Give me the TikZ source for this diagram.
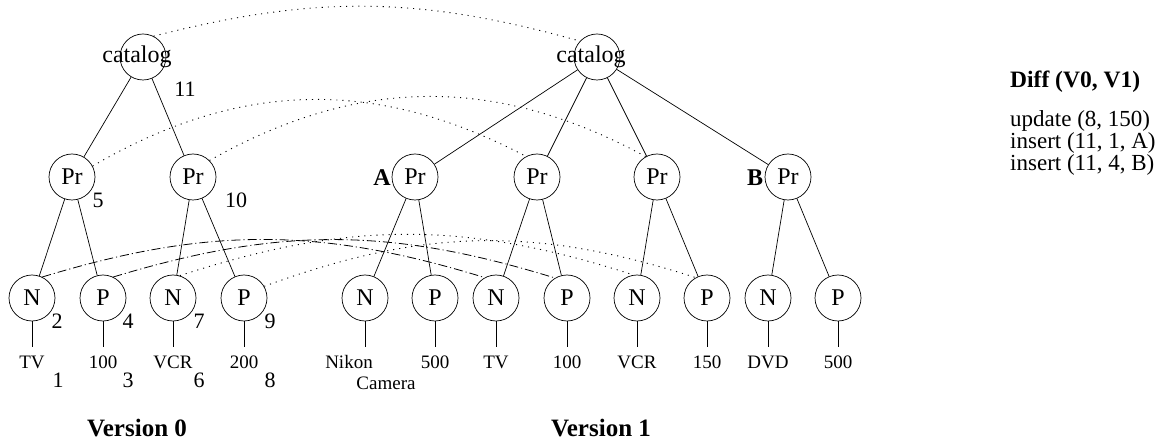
\documentclass[tikz,border=0pt]{standalone}
\usepackage{fontspec}
\setmainfont{Liberation Serif}
\begin{document}
\begin{tikzpicture}[x=1pt,y=-1pt,
  treenode/.style={draw, circle, minimum size=46pt, inner sep=0pt,
    line width=0.7pt, font=\fontsize{24}{28}\selectfont},
  edge/.style={line width=0.7pt},
  val/.style={anchor=north, inner xsep=1pt, inner ysep=0pt,
    text height=21pt, text depth=4pt, font=\fontsize{19}{22}\selectfont},
  num/.style={inner sep=0pt, font=\fontsize{22}{26}\selectfont},
  mark label/.style={inner sep=0pt, font=\bfseries\fontsize{24}{28}\selectfont},
  title/.style={inner sep=0pt, font=\bfseries\fontsize{25}{30}\selectfont},
  difftext/.style={anchor=base west, inner sep=0pt, font=\fontsize{23}{26}\selectfont},
  samedots/.style={line width=0.9pt, dash pattern=on 1.1pt off 5pt},
  samedashdot/.style={line width=0.8pt, dash pattern=on 9pt off 3pt on 1.1pt off 3pt},
]
\useasboundingbox (0,0) rectangle (1166,443);

% ---------- Version 0 ----------
\node[treenode] (cat0) at (143,57) {\makebox[0pt]{catalog\hspace{12pt}}};
\node[treenode] (pr01) at (72,177) {Pr};
\node[treenode] (pr02) at (193,177) {Pr};
\node[treenode] (n01) at (32,298) {N};
\node[treenode] (p01) at (103,298) {P};
\node[treenode] (n02) at (173,298) {N};
\node[treenode] (p02) at (244,298) {P};
\node[val] (v01) at (32,347) {TV};
\node[val] (v02) at (103,347) {100};
\node[val] (v03) at (173,347) {VCR};
\node[val] (v04) at (244,347) {200};

\draw[edge] (cat0) -- (pr01);
\draw[edge] (cat0) -- (pr02);
\draw[edge] (pr01) -- (n01);
\draw[edge] (pr01) -- (p01);
\draw[edge] (pr02) -- (n02);
\draw[edge] (pr02) -- (p02);
\draw[edge] (n01.south) -- (v01.north);
\draw[edge] (p01.south) -- (v02.north);
\draw[edge] (n02.south) -- (v03.north);
\draw[edge] (p02.south) -- (v04.north);

% node identifiers of version 0
\node[num] at (185,89) {11};
\node[num] at (98,200) {5};
\node[num] at (236,200) {10};
\node[num] at (57,321) {2};
\node[num] at (128,321) {4};
\node[num] at (199,321) {7};
\node[num] at (270,321) {9};
\node[num] at (58,380) {1};
\node[num] at (128,380) {3};
\node[num] at (199,380) {6};
\node[num] at (270,380) {8};

\node[title] (t0) at (137,428) {Version 0};

% ---------- Version 1 ----------
\node[treenode] (cat1) at (597,57) {\makebox[0pt]{catalog\hspace{12pt}}};
\node[treenode] (pr11) at (415,177) {Pr};
\node[treenode] (pr12) at (537,177) {Pr};
\node[treenode] (pr13) at (657,177) {Pr};
\node[treenode] (pr14) at (788,177) {Pr};
\node[mark label] (la) at (382,178) {A};
\node[mark label] (lb) at (755,178) {B};

\node[treenode] (n11) at (365,298) {N};
\node[treenode] (p11) at (435,298) {P};
\node[treenode] (n12) at (496,298) {N};
\node[treenode] (p12) at (567,298) {P};
\node[treenode] (n13) at (637,298) {N};
\node[treenode] (p13) at (707,298) {P};
\node[treenode] (n14) at (768,298) {N};
\node[treenode] (p14) at (838,298) {P};

\node[val] (w11) at (349,347) {Nikon};
\node[val, inner sep=0pt, anchor=center, text height=, text depth=] (w11b) at (386,383) {Camera};
\node[val] (w12) at (435,347) {500};
\node[val] (w13) at (496,347) {TV};
\node[val] (w14) at (567,347) {100};
\node[val] (w15) at (637,347) {VCR};
\node[val] (w16) at (707,347) {150};
\node[val] (w17) at (768,347) {DVD};
\node[val] (w18) at (838,347) {500};

\draw[edge] (cat1) -- (pr11);
\draw[edge] (cat1) -- (pr12);
\draw[edge] (cat1) -- (pr13);
\draw[edge] (cat1) -- (pr14);
\draw[edge] (pr11) -- (n11);
\draw[edge] (pr11) -- (p11);
\draw[edge] (pr12) -- (n12);
\draw[edge] (pr12) -- (p12);
\draw[edge] (pr13) -- (n13);
\draw[edge] (pr13) -- (p13);
\draw[edge] (pr14) -- (n14);
\draw[edge] (pr14) -- (p14);
\draw[edge] (n11.south) -- (n11.south |- w11.north);
\draw[edge] (p11.south) -- (w12.north);
\draw[edge] (n12.south) -- (w13.north);
\draw[edge] (p12.south) -- (w14.north);
\draw[edge] (n13.south) -- (w15.north);
\draw[edge] (p13.south) -- (w16.north);
\draw[edge] (n14.south) -- (w17.north);
\draw[edge] (p14.south) -- (w18.north);

\node[title] (t1) at (601,428) {Version 1};

% ---------- correspondences between the versions ----------
\draw[samedots] (cat0.63) to[bend left=15] (cat1.137);
\draw[samedots] (pr01.28) to[bend left=29] (pr12.118);
\draw[samedots] (pr02.45) to[bend left=29] (pr13.119);
\draw[samedashdot] (n01.64) to[bend left=17] (n12.119);
\draw[samedashdot] (p01.64) to[bend left=17] (p12.121);
\draw[samedots] (n02.73) to[bend left=18] (n13.99);
\draw[samedots] (p02.30) to[bend left=19] (p13.119);

% ---------- edit script ----------
\node[anchor=base west, inner sep=0pt, font=\bfseries\fontsize{23.5}{26}\selectfont] (dt) at (1010,88) {Diff (V0, V1)};
\node[difftext] (d1) at (1010,127) {update (8, 150)};
\node[difftext] (d2) at (1010,149) {insert (11, 1, A)};
\node[difftext] (d3) at (1010,171) {insert (11, 4, B)};
\end{tikzpicture}
\end{document}
